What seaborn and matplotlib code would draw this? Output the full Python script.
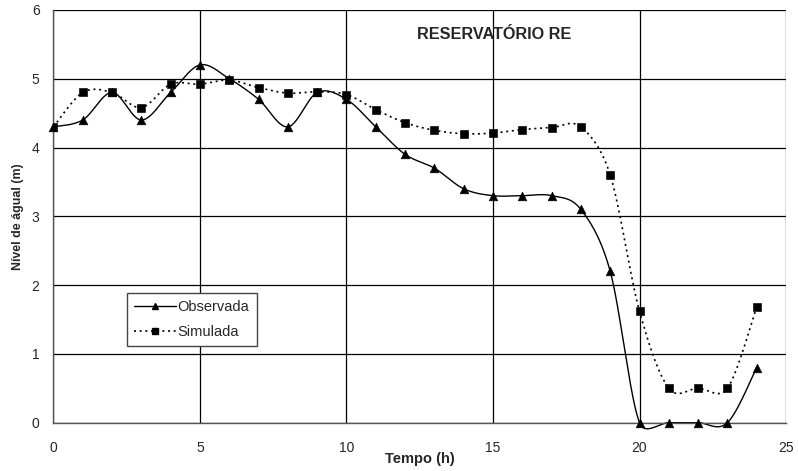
import numpy as np
import pandas as pd
import matplotlib
matplotlib.use("Agg")
import matplotlib.pyplot as plt
import seaborn as sns

# hourly water level readings (m)
tempo = list(range(25))
observada = [4.3, 4.4, 4.8, 4.4, 4.8, 5.2, 5.0, 4.7, 4.3, 4.8, 4.7, 4.3, 3.9,
             3.7, 3.4, 3.3, 3.3, 3.3, 3.1, 2.2, 0.0, 0.0, 0.0, 0.0, 0.8]
simulada = [4.3, 4.8, 4.8, 4.58, 4.92, 4.92, 4.98, 4.87, 4.79, 4.81, 4.77,
            4.55, 4.36, 4.25, 4.2, 4.21, 4.26, 4.29, 4.3, 3.6, 1.62, 0.5,
            0.5, 0.5, 1.68]

# pixels per data unit on screen (x, y) - used for the smoothing arms
ASPECT = np.array([29.3, 68.7])


def smooth(x, y, n=30):
    # spreadsheet-style smoothed line: catmull-rom bezier through every
    # point, each control arm capped at half of its segment (screen units)
    p = np.column_stack([np.asarray(x, float), np.asarray(y, float)])
    q = np.vstack([p[0], p, p[-1]])
    t = np.linspace(0, 1, n)[:, None]
    xs, ys = [], []
    for i in range(1, len(q) - 2):
        p0, p1, p2, p3 = q[i - 1], q[i], q[i + 1], q[i + 2]
        seg = np.hypot(*((p2 - p1) * ASPECT))
        a1 = (p2 - p0) / 6
        a2 = (p3 - p1) / 6
        for a in (a1, a2):
            ln = np.hypot(*(a * ASPECT))
            if ln > seg / 2:
                a *= seg / 2 / ln
        c1 = p1 + a1
        c2 = p2 - a2
        bz = (1 - t) ** 3 * p1 + 3 * (1 - t) ** 2 * t * c1 \
            + 3 * (1 - t) * t ** 2 * c2 + t ** 3 * p2
        xs.extend(bz[:, 0])
        ys.extend(bz[:, 1])
    return np.array(xs), np.array(ys)


sns.set_style("white")
plt.rcParams['font.family'] = ['Liberation Sans', 'DejaVu Sans']

fig = plt.figure(figsize=(7.98, 4.71), dpi=100)
ax = fig.add_axes([0.067, 0.1025, 0.918, 0.8765])

sx, sy = smooth(tempo, observada)
sns.lineplot(x=sx, y=sy, ax=ax, color='black', lw=1.0, sort=False)
ax.lines[-1].set_clip_on(False)
sns.scatterplot(x=tempo, y=observada, ax=ax, marker='^', color='black',
                s=38, edgecolor='black', zorder=5, clip_on=False)

sx, sy = smooth(tempo, simulada)
sns.lineplot(x=sx, y=sy, ax=ax, color='black', lw=1.2, sort=False,
             linestyle=(0, (1.2, 2.2)))
sns.scatterplot(x=tempo, y=simulada, ax=ax, marker='s', color='black',
                s=30, edgecolor='black', zorder=5)

ax.set_xlim(0, 25)
ax.set_ylim(0, 6)
ax.set_xticks(range(0, 26, 5))
ax.set_yticks(range(0, 7))
ax.grid(True, color='black', lw=0.9)
for side in ['top', 'right']:
    ax.spines[side].set_visible(False)
for side in ['left', 'bottom']:
    ax.spines[side].set_color('#555555')
    ax.spines[side].set_linewidth(1.0)
ax.tick_params(axis='both', direction='out', length=4, width=1,
               color='#555555', labelsize=10, pad=6)
ax.tick_params(axis='x', pad=9)

ax.set_xlabel("Tempo (h)", fontsize=10.5, fontweight='bold', labelpad=-2)
ax.set_ylabel("Nível de águal (m)", fontsize=8.9, fontweight='bold')
ax.yaxis.set_label_coords(-0.04, 0.5)

ax.text(15.04, 5.64, "RESERVATÓRIO RE", fontsize=11.7, fontweight='bold',
        ha='center', va='center')

handles = [
    plt.Line2D([], [], color='black', lw=1.0, marker='^', markersize=5),
    plt.Line2D([], [], color='black', lw=1.2, linestyle=(0, (1.2, 2.2)),
               marker='s', markersize=4.5),
]
leg = ax.legend(handles, ["Observada", "Simulada"], loc='upper left',
                bbox_to_anchor=(0.0999, 0.315), fontsize=10.5, frameon=True,
                fancybox=False, borderpad=0.5, handlelength=2.85,
                handletextpad=0.15, labelspacing=0.75, borderaxespad=0)
leg.get_frame().set_edgecolor('#444444')
leg.get_frame().set_linewidth(1.0)
leg.get_frame().set_alpha(1)

fig.savefig("out.png", dpi=100)
